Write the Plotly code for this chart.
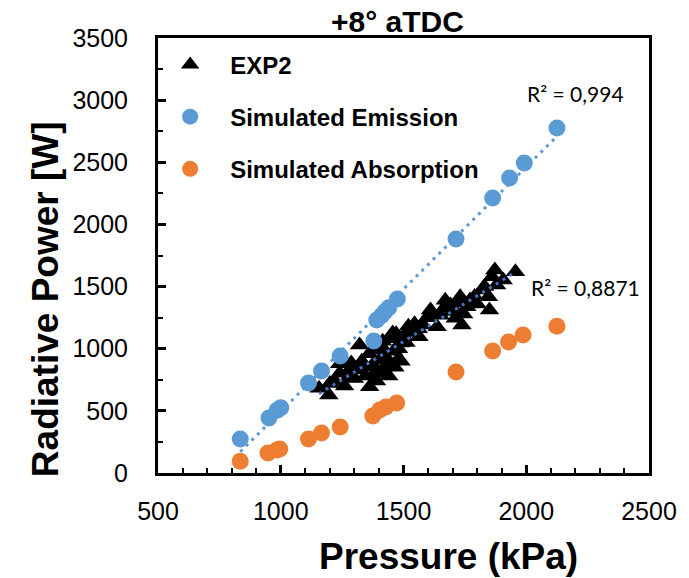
import numpy as np
import plotly.graph_objects as go

# ---- data ----
exp2_x = [1156, 1196, 1240, 1274, 1287, 1321, 1315, 1347, 1362, 1382, 1402, 1422, 1435, 1456,
          1476, 1488, 1523, 1549, 1563, 1610, 1637, 1664, 1691, 1711, 1731, 1738, 1758, 1771,
          1819, 1846, 1850, 1872, 1906, 1879, 1956,
          1300, 1330, 1345, 1360, 1375, 1390, 1395, 1410, 1415, 1430, 1440, 1445, 1460, 1465,
          1470, 1480, 1490, 1500, 1510, 1520, 1535, 1545, 1560, 1580, 1595, 1620, 1650, 1670,
          1700, 1720, 1745, 1790, 1800, 1830, 1860, 1240, 1260, 1280, 1220, 1200]
exp2_y = [681, 628, 802, 764, 885, 1030, 829, 853, 694, 802, 909, 990, 855, 1126,
          909, 1046, 1137, 1177, 1097, 1311, 1177, 1325, 1352, 1245, 1418, 1191, 1338, 1392,
          1472, 1418, 1311, 1633, 1553, 1512, 1619,
          760, 900, 780, 960, 870, 740, 1000, 820, 1060, 930, 780, 1080, 980, 850,
          1120, 1000, 900, 1100, 1050, 1180, 1130, 1200, 1160, 1190, 1250, 1280, 1270, 1390,
          1300, 1370, 1280, 1420, 1360, 1500, 1580, 880, 700, 830, 740, 720]

sim_x = [835, 952, 985, 1000, 1113, 1166, 1242, 1379, 1391, 1410, 1425, 1440, 1475,
         1714, 1863, 1932, 1992, 2125]
emis_y = [274, 442, 505, 525, 724, 821, 941, 1062, 1231, 1265, 1300, 1330, 1400,
          1883, 2212, 2373, 2494, 2775]
abs_x = [835, 948, 984, 996, 1113, 1166, 1242, 1375, 1403, 1428, 1472, 1714, 1863, 1928, 1987, 2125]
abs_y = [95, 161, 185, 193, 274, 322, 370, 459, 507, 531, 563, 812, 981, 1054, 1110, 1180]

title_text = "+8° aTDC"
x_title = "Pressure (kPa)"
y_title = "Radiative Power [W]"
r2_emis = "R² = 0,994"
r2_exp = "R² = 0,8871"

BLUE = "#5B9BD5"
ORANGE = "#ED7D31"
TREND_BLUE = "#4472C4"
ARIAL = "Liberation Sans, Arial"

def trend(xs, ys):
    c = np.polyfit(xs, ys, 1)
    xx = np.array([min(xs), max(xs)], dtype=float)
    return xx, np.polyval(c, xx)

fig = go.Figure()

tx, ty = trend(sim_x, emis_y)
fig.add_trace(go.Scatter(x=tx, y=ty, mode="lines", showlegend=False, hoverinfo="skip",
                         line=dict(color=BLUE, width=3, dash="3px,5px")))

fig.add_trace(go.Scatter(x=exp2_x, y=exp2_y, mode="markers", name="EXP2", legendgroup="a",
                         marker=dict(symbol="triangle-up", size=17, color="black")))
fig.add_trace(go.Scatter(x=sim_x, y=emis_y, mode="markers", name="Simulated Emission", legendgroup="b",
                         marker=dict(symbol="circle", size=17, color=BLUE)))
fig.add_trace(go.Scatter(x=abs_x, y=abs_y, mode="markers", name="Simulated Absorption", legendgroup="c",
                         marker=dict(symbol="circle", size=17, color=ORANGE)))

ex, ey = trend(exp2_x, exp2_y)
fig.add_trace(go.Scatter(x=ex, y=ey, mode="lines", showlegend=False, hoverinfo="skip",
                         line=dict(color=TREND_BLUE, width=3, dash="3px,5px")))

tick_font = dict(family=ARIAL, size=25, color="black")

fig.update_xaxes(range=[500, 2500], dtick=500, tick0=500, showgrid=False, zeroline=False,
                 showline=True, linecolor="black", linewidth=3, mirror=True,
                 ticks="inside", ticklen=8, tickwidth=3, tickcolor="black", ticklabelstandoff=14,
                 minor=dict(dtick=100, ticks="inside", ticklen=5, tickwidth=2, tickcolor="black", showgrid=False),
                 tickfont=tick_font)
fig.update_yaxes(range=[0, 3500], dtick=500, tick0=0, showgrid=False, zeroline=False,
                 showline=True, linecolor="black", linewidth=3, mirror=True,
                 ticks="inside", ticklen=8, tickwidth=3, tickcolor="black", ticklabelstandoff=22,
                 minor=dict(dtick=250, ticks="inside", ticklen=5, tickwidth=2, tickcolor="black", showgrid=False),
                 tickfont=tick_font)

fig.update_layout(
    width=689, height=578,
    margin=dict(l=158, r=35, t=38, b=105),
    plot_bgcolor="white", paper_bgcolor="white",
    showlegend=True,
    legend=dict(x=-0.016, y=0.99, xanchor="left", yanchor="top", bgcolor="rgba(0,0,0,0)",
                font=dict(family=ARIAL, size=24, color="black", weight="bold"),
                itemwidth=70, tracegroupgap=18, traceorder="grouped"),
    annotations=[
        dict(text="<b>" + title_text + "</b>", x=(400 - 158) / 496, y=(473 - 21) / 435, xref="paper", yref="paper",
             showarrow=False, yanchor="middle", font=dict(family=ARIAL, size=30, color="black")),
        dict(text="<b>" + x_title + "</b>", x=(451 - 158) / 496, y=-(556 - 473) / 435, xref="paper", yref="paper",
             showarrow=False, yanchor="middle", font=dict(family=ARIAL, size=37, color="black")),
        dict(text="<b>" + y_title + "</b>", x=(44 - 158) / 496, y=(473 - 299) / 435, xref="paper", yref="paper",
             showarrow=False, textangle=-90, xanchor="center", yanchor="middle",
             font=dict(family=ARIAL, size=37, color="black")),
        dict(text=r2_emis, x=1996, y=3057, xref="x", yref="y", showarrow=False, xanchor="left",
             yanchor="middle", font=dict(family="Lato, Open Sans", size=21, color="black")),
        dict(text=r2_exp, x=2012, y=1496, xref="x", yref="y", showarrow=False, xanchor="left",
             yanchor="middle", font=dict(family="Lato, Open Sans", size=21, color="black")),
    ],
)

fig.write_html("out.html")
